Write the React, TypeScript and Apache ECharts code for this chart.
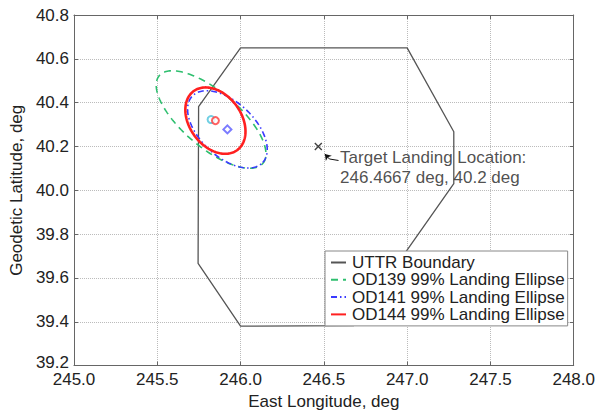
import React, { useEffect, useRef } from "react";
import * as echarts from "echarts";

const FONT = "'Liberation Sans', Arial, Helvetica, sans-serif";

// Axis ranges / ticks
const lonMin = 245.0;
const lonMax = 248.0;
const lonStep = 0.5;
const latMin = 39.2;
const latMax = 40.8;
const latStep = 0.2;

// UTTR boundary polygon (deg)
const boundaryLon = [246.0, 247.0, 247.28, 247.28, 246.68, 246.0, 245.745, 245.748, 246.0];
const boundaryLat = [40.65, 40.65, 40.267, 40.03, 39.382, 39.38, 39.666, 40.382, 40.65];

// Landing ellipses (center, semi-axes in km, tilt clockwise from east)
const ellipseNames = [
  "OD139 99% Landing Ellipse",
  "OD141 99% Landing Ellipse",
  "OD144 99% Landing Ellipse",
];
const ellipseCenterLon = [245.823, 245.921, 245.849];
const ellipseCenterLat = [40.323, 40.278, 40.318];
const ellipseSemiMajorKm = [34.5, 24.6, 18.6];
const ellipseSemiMinorKm = [14.2, 13.8, 13.1];
const ellipseTiltDeg = [40, 43, 53];
const ellipseColors = ["#2fbf6f", "#3a3aff", "#ff2020"];
const ellipseDash: any[] = [[7, 5], [6, 3, 1.5, 3], "solid"];
const ellipseWidths = [1.6, 1.6, 2.6];
const centerSymbols = ["emptyCircle", "emptyDiamond", "emptyCircle"];
const centerColors = ["#4cc3dc", "#5a5aff", "#ff3b3b"];

// Target landing location
const targetLon = 246.4667;
const targetLat = 40.2;
// Leader line for annotation (tip, bend, end)
const leaderLon = [246.506, 246.533, 246.588];
const leaderLat = [40.166, 40.143, 40.136];

function ellipsePoints(lon0: number, lat0: number, aKm: number, bKm: number, tilt: number, n = 180) {
  const kmPerDegLat = 111.0;
  const kmPerDegLon = 111.32 * Math.cos((lat0 * Math.PI) / 180);
  const th = (tilt * Math.PI) / 180;
  const pts: number[][] = [];
  for (let i = 0; i <= n; i++) {
    const t = (2 * Math.PI * i) / n;
    const u = aKm * Math.cos(t);
    const v = bKm * Math.sin(t);
    const east = u * Math.cos(th) + v * Math.sin(th);
    const north = -u * Math.sin(th) + v * Math.cos(th);
    pts.push([lon0 + east / kmPerDegLon, lat0 + north / kmPerDegLat]);
  }
  return pts;
}

export default function App() {
  const ref = useRef<HTMLDivElement>(null);
  useEffect(() => {
    if (!ref.current) return;
    const chart = echarts.init(ref.current, undefined, { renderer: "svg" });
    const axisLineStyle = { color: "#666", width: 1 };
    const textColor = "#222";
    const fs = 17;

    const ellipseSeries = ellipseNames.map((name, i) => ({
      name,
      type: "line",
      data: ellipsePoints(
        ellipseCenterLon[i],
        ellipseCenterLat[i],
        ellipseSemiMajorKm[i],
        ellipseSemiMinorKm[i],
        ellipseTiltDeg[i]
      ),
      symbol: "none",
      showSymbol: false,
      smooth: false,
      color: ellipseColors[i],
      lineStyle: { color: ellipseColors[i], width: ellipseWidths[i], type: ellipseDash[i] },
      z: 3,
    }));

    const centerSeries = ellipseNames.map((name, i) => ({
      name: name + " center",
      type: "scatter",
      data: [[ellipseCenterLon[i], ellipseCenterLat[i]]],
      symbol: centerSymbols[i],
      symbolSize: i === 1 ? 8 : 7,
      itemStyle: { color: centerColors[i], borderColor: centerColors[i], borderWidth: 1 },
      z: 5,
    }));

    const option: any = {
      animation: false,
      backgroundColor: "#fff",
      textStyle: { fontFamily: FONT },
      grid: { left: 66.7, right: 21.3, top: 15, bottom: 42.3 },
      xAxis: [
        {
          type: "value",
          min: lonMin,
          max: lonMax,
          interval: lonStep,
          name: "East Longitude, deg",
          nameLocation: "middle",
          nameGap: 23,
          nameTextStyle: { fontSize: fs, color: textColor, fontFamily: FONT },
          axisLine: { show: true, onZero: false, lineStyle: axisLineStyle },
          axisTick: { show: true, inside: true, length: 4, lineStyle: axisLineStyle },
          axisLabel: {
            formatter: (v: number) => v.toFixed(1),
            margin: 7,
            fontSize: fs,
            lineHeight: 14,
            color: textColor,
            fontFamily: FONT,
          },
          splitLine: { show: true, lineStyle: { type: "dotted", color: "#bbb", width: 1 } },
        },
        {
          type: "value",
          position: "top",
          min: lonMin,
          max: lonMax,
          interval: lonStep,
          axisLine: { show: true, onZero: false, lineStyle: axisLineStyle },
          axisTick: { show: true, inside: true, length: 4, lineStyle: axisLineStyle },
          axisLabel: { show: false },
          splitLine: { show: false },
        },
      ],
      yAxis: [
        {
          type: "value",
          min: latMin,
          max: latMax,
          interval: latStep,
          name: "Geodetic Latitude, deg",
          nameLocation: "middle",
          nameGap: 48,
          nameTextStyle: { fontSize: fs, color: textColor, fontFamily: FONT },
          axisLine: { show: true, onZero: false, lineStyle: axisLineStyle },
          axisTick: { show: true, inside: true, length: 4, lineStyle: axisLineStyle },
          axisLabel: {
            formatter: (v: number) =>
              Math.abs(v - latMin) < 1e-9 ? `{lo|${v.toFixed(1)}}` : v.toFixed(1),
            margin: 5,
            fontSize: fs,
            lineHeight: 14,
            color: textColor,
            fontFamily: FONT,
            rich: {
              lo: { fontSize: fs, lineHeight: 14, color: textColor, fontFamily: FONT, padding: [0, 0, 6, 0] },
            },
          },
          splitLine: { show: true, lineStyle: { type: "dotted", color: "#bbb", width: 1 } },
        },
        {
          type: "value",
          position: "right",
          min: latMin,
          max: latMax,
          interval: latStep,
          axisLine: { show: true, onZero: false, lineStyle: axisLineStyle },
          axisTick: { show: true, inside: true, length: 4, lineStyle: axisLineStyle },
          axisLabel: { show: false },
          splitLine: { show: false },
        },
      ],
      legend: {
        orient: "vertical",
        left: 325,
        top: 251,
        padding: [3, 3, 3, 5],
        itemWidth: 15,
        itemHeight: 10,
        itemGap: 0.3,
        backgroundColor: "#fff",
        borderColor: "#888",
        borderWidth: 1,
        borderRadius: 0,
        itemStyle: { opacity: 0 },
        data: ["UTTR Boundary", ...ellipseNames],
        textStyle: { fontSize: fs, color: textColor, fontFamily: FONT, padding: [0, 0, 0, 1] },
      },
      series: [
        {
          name: "UTTR Boundary",
          type: "line",
          data: boundaryLon.map((lon, i) => [lon, boundaryLat[i]]),
          symbol: "none",
          showSymbol: false,
          color: "#555",
          lineStyle: { color: "#555", width: 1.3 },
          z: 2,
        },
        ...ellipseSeries,
        ...centerSeries,
        {
          name: "Target",
          type: "scatter",
          data: [[targetLon, targetLat]],
          symbol: "path://M0,0L10,10M10,0L0,10",
          symbolSize: 7,
          itemStyle: { color: "none", borderColor: "#111", borderWidth: 1.4 },
          label: {
            show: true,
            position: [27.8, 7.5],
            align: "left",
            verticalAlign: "top",
            formatter: `Target Landing Location:\n${targetLon} deg, ${targetLat} deg`,
            fontSize: fs,
            lineHeight: 20,
            color: textColor,
            fontFamily: FONT,
          },
          markLine: {
            silent: true,
            animation: false,
            label: { show: false },
            lineStyle: { color: "#111", width: 1, type: "solid" },
            symbolSize: 6,
            data: [
              [
                { coord: [leaderLon[0], leaderLat[0]], symbol: "arrow" },
                { coord: [leaderLon[1], leaderLat[1]], symbol: "none" },
              ],
              [
                { coord: [leaderLon[1], leaderLat[1]], symbol: "none" },
                { coord: [leaderLon[2], leaderLat[2]], symbol: "none" },
              ],
            ],
          },
          z: 6,
        },
      ],
    };
    chart.setOption(option);
    return () => chart.dispose();
  }, []);
  return (
    <div
      ref={ref}
      style={{ position: "absolute", left: 0, top: 0, width: 598, height: 415, background: "#fff" }}
    />
  );
}
